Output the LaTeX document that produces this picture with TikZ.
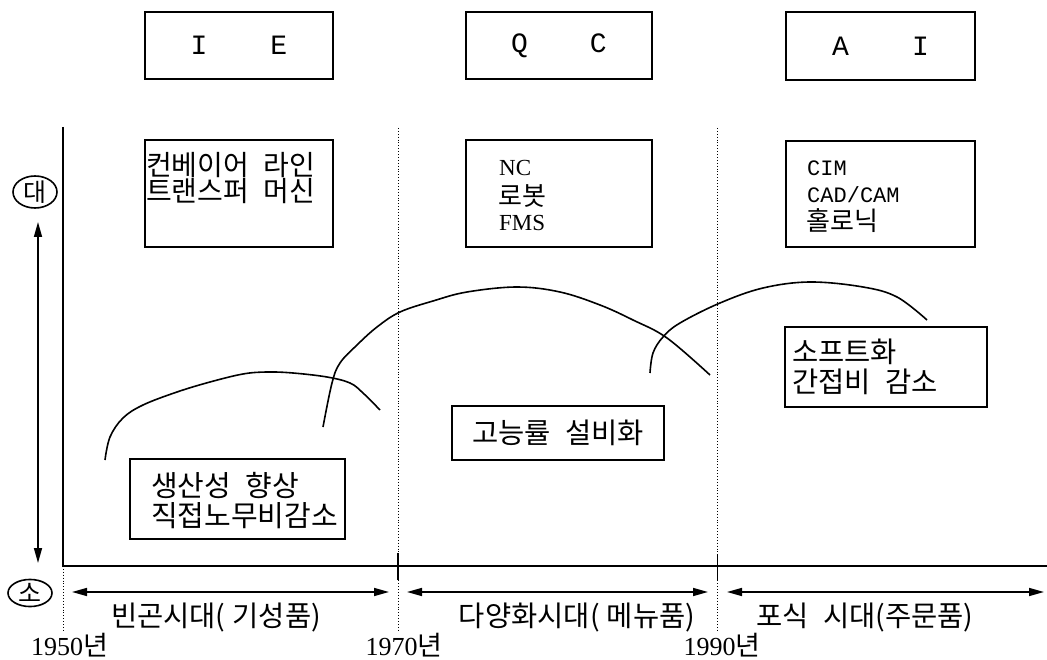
\documentclass[tikz,border=0pt]{standalone}
\usepackage{fontspec}
\setmainfont{Liberation Serif}
\newfontfamily\kr{Noto Sans CJK KR}
\newfontfamily\mono{Liberation Mono}
\usetikzlibrary{arrows.meta,shapes.geometric}
\newcommand\ksp{\hspace{0.5em}}
\begin{document}
\begin{tikzpicture}[x=1pt,y=-1pt,
  box/.style={draw, line width=1.7pt, inner sep=0pt},
  boxtext/.style={anchor=west, align=left, inner sep=0pt},
  line/.style={anchor=west, inner sep=0pt},
  curve/.style={line width=1.6pt, line join=round},
  axisline/.style={line width=1.8pt},
  guide/.style={dotted, line width=0.9pt},
  dblarrow/.style={line width=1.6pt, {Triangle[length=15pt,width=8pt]}-{Triangle[length=15pt,width=8pt]}},
  tag/.style={draw, ellipse, line width=1.6pt, inner sep=0pt, font=\kr\fontsize{25}{25}\selectfont},
  period/.style={font=\kr\fontsize{28.5}{29}\selectfont, inner sep=0pt},
  year/.style={font=\fontsize{26}{26}\selectfont, inner sep=0pt}
]
\useasboundingbox (0,0) rectangle (1047,660);

% top boxes
\node[box, minimum width=188pt, minimum height=67pt, font=\mono\fontsize{28}{28}\selectfont] (ie) at (239,45.5) {I\hspace{63pt}E};
\node[box, minimum width=186pt, minimum height=67pt, font=\mono\fontsize{28}{28}\selectfont] (qc) at (559,45.5) {Q\hspace{62pt}C};
\node[box, minimum width=189pt, minimum height=68pt, font=\mono\fontsize{28}{28}\selectfont] (ai) at (880.5,46) {A\hspace{63pt}I};

% second row boxes
\node[box, minimum width=188pt, minimum height=107pt] (b1) at (239,193.5) {};
\node[box, minimum width=186pt, minimum height=107pt] (b2) at (559,193.5) {};
\node[box, minimum width=189pt, minimum height=106pt] (b3) at (880.5,194) {};
\node[boxtext, font=\kr\fontsize{28}{24}\selectfont] (t1) at (146,178) {컨베이어\ksp 라인\\트랜스퍼\ksp 머신};

\node[line, font=\fontsize{23}{23}\selectfont] (nc) at (499,168) {NC};
\node[line, font=\kr\fontsize{26}{26}\selectfont] (robot) at (498,196) {로봇};
\node[line, font=\fontsize{23}{23}\selectfont] (fms) at (499,223) {FMS};

\node[line, font=\mono\fontsize{22}{22}\selectfont] (cim) at (807,168) {CIM};
\node[line, font=\mono\fontsize{22}{22}\selectfont] (cad) at (807,195) {CAD/CAM};
\node[line, font=\kr\fontsize{26}{26}\selectfont] (holo) at (806,221) {홀로닉};

% lower boxes
\node[box, minimum width=215pt, minimum height=80pt] (lb1) at (237.5,499) {};
\node[boxtext, font=\kr\fontsize{29}{30}\selectfont] (lt1) at (151,501) {생산성\ksp 향상\\직접노무비감소};
\node[box, minimum width=212pt, minimum height=54pt, font=\kr\fontsize{28.5}{28}\selectfont] (lb2) at (558,433) {고능률\ksp 설비화};
\node[box, minimum width=202pt, minimum height=80pt] (lb3) at (886,367) {};
\node[boxtext, font=\kr\fontsize{28.5}{30}\selectfont] (lt3) at (792,367) {소프트화\\간접비\ksp 감소};

% axes
\coordinate (o) at (63,566);
\coordinate (ytop) at (63,127);
\coordinate (xend) at (1047,566);
\coordinate (obot) at (63,632);
\draw[axisline] (ytop) -- (o) -- (xend);
\draw[guide] (o) -- (obot);

\coordinate (g1t) at (398,128); \coordinate (g1b) at (398,632);
\coordinate (g1a) at (398,553); \coordinate (g1c) at (398,580);
\coordinate (g2t) at (717.5,128); \coordinate (g2b) at (717.5,632);
\coordinate (g2a) at (717.5,555); \coordinate (g2c) at (717.5,580);
\draw[guide] (g1t) -- (g1b);
\draw[guide] (g2t) -- (g2b);
\draw[axisline] (g1a) -- (g1c);
\draw[axisline] (g2a) -- (g2c);

% vertical scale
\node[tag, minimum width=44pt, minimum height=30pt] (dae) at (35,192) {대};
\node[tag, minimum width=44pt, minimum height=26pt] (so) at (30,593) {소};
\coordinate (vtop) at (38,222);
\coordinate (vbot) at (38,563);
\draw[dblarrow] (vtop) -- (vbot);

% period arrows
\coordinate (p1a) at (72,592); \coordinate (p1b) at (389,592);
\coordinate (p2a) at (407,592); \coordinate (p2b) at (708,592);
\coordinate (p3a) at (727,592); \coordinate (p3b) at (1044,592);
\draw[dblarrow] (p1a) -- (p1b);
\draw[dblarrow] (p2a) -- (p2b);
\draw[dblarrow] (p3a) -- (p3b);

\node[period] (per1) at (216,618) {빈곤시대(\hspace{0.25em}기성품)};
\node[period] (per2) at (577,618) {다양화시대(\hspace{0.25em}메뉴품)};
\node[period] (per3) at (865,618) {포식\ksp 시대(주문품)};

\node[year] (y1) at (69.5,645) {1950{\kr\fontsize{27}{27}\selectfont 년}};
\node[year] (y2) at (404,645) {1970{\kr\fontsize{27}{27}\selectfont 년}};
\node[year] (y3) at (722,645) {1990{\kr\fontsize{27}{27}\selectfont 년}};

% curves
\draw[curve] plot[smooth, tension=0.6] coordinates {(105,460) (110,437) (123,418) (143,405) (177,392) (210,382) (243,374) (267,372) (293,373) (327,377) (350,383) (363,393) (380,410)};
\draw[curve] plot[smooth, tension=0.6] coordinates {(323,427) (332,383) (340,363) (357,345) (377,327) (400,312) (433,301) (467,292) (517,287) (560,292) (600,305) (633,320) (667,338) (710,375)};
\draw[curve] plot[smooth, tension=0.6] coordinates {(650,373) (653,353) (663,337) (680,323) (720,303) (763,288) (810,282) (863,287) (897,297) (927,320)};
\end{tikzpicture}
\end{document}
